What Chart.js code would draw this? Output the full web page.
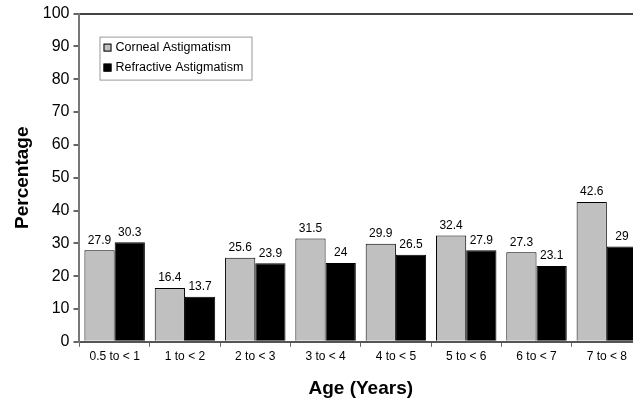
<!DOCTYPE html>
<html>
<head>
<meta charset="utf-8">
<script src="https://cdn.jsdelivr.net/npm/chart.js@4"></script>
<style>
  html, body { margin: 0; padding: 0; background: #fff; overflow: hidden; }
  #wrap { width: 642px; height: 400px; }
</style>
</head>
<body>
<div id="wrap"><canvas id="myChart" width="642" height="400"></canvas></div>
<script>
var ageGroups = ["0.5 to < 1", "1 to < 2", "2 to < 3", "3 to < 4", "4 to < 5", "5 to < 6", "6 to < 7", "7 to < 8"];
var corneal = [27.9, 16.4, 25.6, 31.5, 29.9, 32.4, 27.3, 42.6];
var refractive = [30.3, 13.7, 23.9, 24, 26.5, 27.9, 23.1, 29];
var yTicks = [0, 10, 20, 30, 40, 50, 60, 70, 80, 90, 100];

var FONT = "'Liberation Sans', Arial, sans-serif";

// numbers above each bar
var valueLabels = {
    id: "valueLabels",
    afterDatasetsDraw: function (chart) {
        var ctx = chart.ctx;
        ctx.save();
        ctx.font = "12px " + FONT;
        ctx.fillStyle = "#000";
        ctx.textAlign = "center";
        ctx.textBaseline = "bottom";
        chart.data.datasets.forEach(function (ds, i) {
            chart.getDatasetMeta(i).data.forEach(function (bar, j) {
                ctx.fillText(String(ds.data[j]), bar.x, bar.y - 4);
            });
        });
        ctx.restore();
    }
};

// boxed legend inside the plot
var boxLegend = {
    id: "boxLegend",
    afterDraw: function (chart) {
        var ctx = chart.ctx;
        var a = chart.chartArea;
        ctx.save();
        var lx = a.left + 20, ly = a.top + 23;
        ctx.fillStyle = "#fff";
        ctx.fillRect(lx, ly, 152, 43);
        ctx.strokeStyle = "#999";
        ctx.lineWidth = 1;
        ctx.strokeRect(lx + 0.5, ly + 0.5, 152, 43);
        ctx.font = "12.5px " + FONT;
        ctx.textBaseline = "middle";
        chart.data.datasets.forEach(function (ds, i) {
            var y = ly + 11 + i * 20;
            ctx.fillStyle = ds.backgroundColor;
            ctx.fillRect(lx + 4, y - 4, 8, 8);
            ctx.strokeStyle = "#000";
            ctx.strokeRect(lx + 4.5, y - 3.5, 7, 7);
            ctx.fillStyle = "#000";
            ctx.textAlign = "left";
            ctx.fillText(ds.label, lx + 16, y);
        });
        ctx.restore();
    }
};

var ctx = document.getElementById("myChart").getContext("2d");
var myChart = new Chart(ctx, {
    type: "bar",
    data: {
        labels: ageGroups,
        datasets: [{
            label: "Corneal Astigmatism",
            data: corneal,
            backgroundColor: "#c0c0c0",
            borderColor: "#000",
            borderWidth: 1,
            categoryPercentage: 0.86,
            barPercentage: 1
        }, {
            label: "Refractive Astigmatism",
            data: refractive,
            backgroundColor: "#000",
            borderColor: "#000",
            borderWidth: 1,
            categoryPercentage: 0.86,
            barPercentage: 1
        }]
    },
    options: {
        responsive: false,
        animation: false,
        layout: { padding: { top: 13, right: 0, bottom: 0, left: 7 } },
        plugins: {
            legend: { display: false },
            tooltip: { enabled: false }
        },
        scales: {
            x: {
                grid: { drawOnChartArea: false, tickLength: 5, tickColor: "#666", offset: true },
                border: { color: "#555", width: 2 },
                ticks: { color: "#000", font: { family: FONT, size: 12 }, maxRotation: 0, padding: 3 },
                title: {
                    display: true,
                    text: "Age (Years)",
                    color: "#000",
                    font: { family: FONT, size: 19, weight: "bold" },
                    padding: { top: 10, bottom: 0 }
                }
            },
            y: {
                min: 0,
                max: 100,
                afterBuildTicks: function (axis) {
                    axis.ticks = yTicks.map(function (v) { return { value: v }; });
                },
                grid: {
                    tickLength: 6,
                    tickColor: "#666",
                    color: function (c) { return c.tick && c.tick.value === 100 ? "#444" : "rgba(0,0,0,0)"; },
                    lineWidth: 2
                },
                border: { color: "#777", width: 2 },
                ticks: { color: "#000", font: { family: FONT, size: 16 }, padding: 4 },
                title: {
                    display: true,
                    text: "Percentage",
                    color: "#000",
                    font: { family: FONT, size: 19, weight: "bold" },
                    padding: { bottom: 5 }
                }
            }
        }
    },
    plugins: [valueLabels, boxLegend]
});
</script>
</body>
</html>
